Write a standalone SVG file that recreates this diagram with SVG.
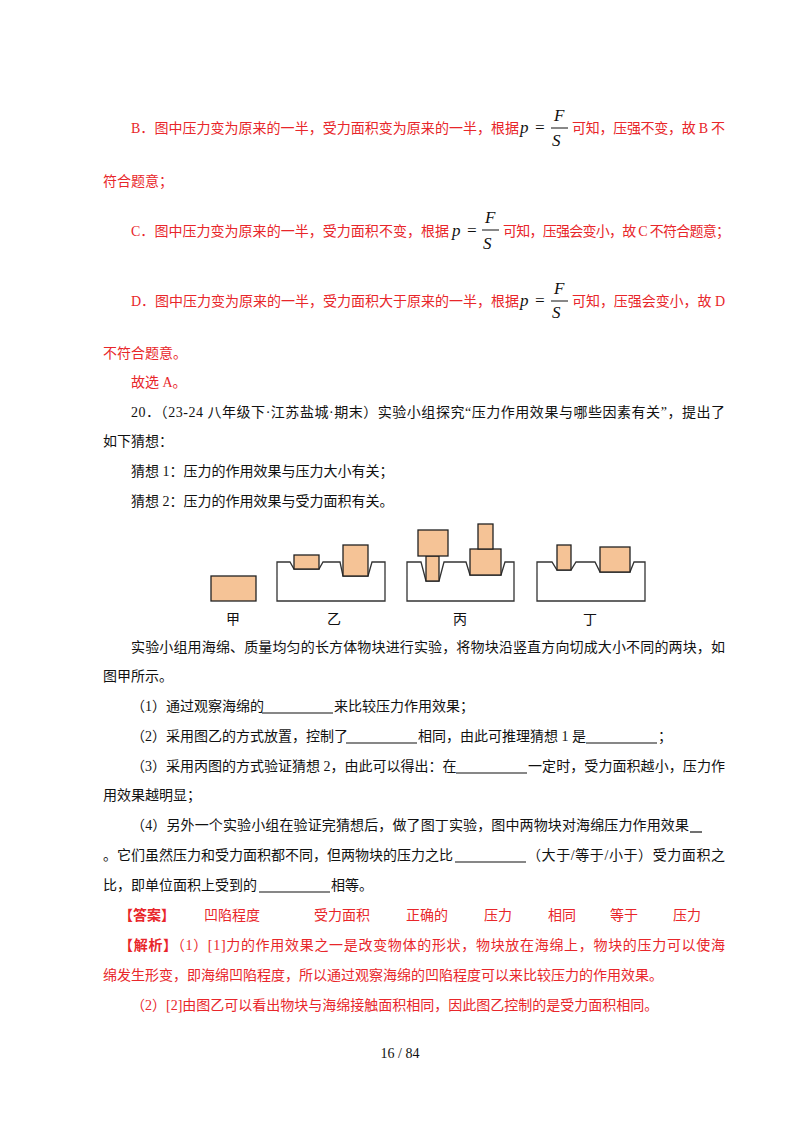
<svg xmlns="http://www.w3.org/2000/svg" width="800" height="1132" viewBox="0 0 800 1132">
<style>
text{font-family:"Liberation Serif","Noto Sans CJK SC",serif;font-size:14px;fill:#111}
.r{fill:#e8262a}
.m{font-family:"Liberation Serif",serif;font-style:italic;font-size:17px;fill:#111}
.b{fill:#f5c396;stroke:#222;stroke-width:1.3}
.s{fill:#fff;stroke:#333;stroke-width:1.3}
.u{stroke:#111;stroke-width:1.2}
</style>
<rect width="800" height="1132" fill="#fff"/>
<g id="opts">
<text class="r" x="131" y="133" textLength="388">B．图中压力变为原来的一半，受力面积变为原来的一半，根据</text>
<text class="m" x="520" y="133">p</text><text class="m" x="534" y="133" font-style="normal">=</text>
<text class="m" x="554" y="121">F</text><line x1="551" y1="128" x2="568" y2="128" stroke="#111"/><text class="m" x="552" y="146">S</text>
<text class="r" x="572" y="133" textLength="153">可知，压强不变，故 B 不</text>
<text class="r" x="103" y="186">符合题意；</text>
<text class="r" x="131" y="236" textLength="318">C．图中压力变为原来的一半，受力面积不变，根据</text>
<text class="m" x="452" y="236">p</text><text class="m" x="466" y="236" font-style="normal">=</text>
<text class="m" x="485" y="223">F</text><line x1="482" y1="230" x2="499" y2="230" stroke="#111"/><text class="m" x="483" y="249">S</text>
<text class="r" x="503" y="236" textLength="227">可知，压强会变小，故 C 不符合题意；</text>
<text class="r" x="131" y="306" textLength="388">D．图中压力变为原来的一半，受力面积大于原来的一半，根据</text>
<text class="m" x="520" y="306">p</text><text class="m" x="534" y="306" font-style="normal">=</text>
<text class="m" x="554" y="294">F</text><line x1="551" y1="301" x2="568" y2="301" stroke="#111"/><text class="m" x="552" y="318">S</text>
<text class="r" x="572" y="306" textLength="153">可知，压强会变小，故 D</text>
<text class="r" x="103" y="358">不符合题意。</text>
<text class="r" x="131" y="387">故选 A。</text>
</g>
<g id="question">
<text x="131" y="417" textLength="594">20．（23-24 八年级下·江苏盐城·期末）实验小组探究“压力作用效果与哪些因素有关”，提出了</text>
<text x="103" y="446">如下猜想：</text>
<text x="131" y="476">猜想 1：压力的作用效果与压力大小有关；</text>
<text x="131" y="506">猜想 2：压力的作用效果与受力面积有关。</text>
</g>
<g id="figure">
<rect class="b" x="211" y="576" width="45" height="25"/>
<path class="s" d="M277,562 H290 L294,569 H319 L323,562 H340 L343,576 H368 L372,562 H385 V601 H277 Z"/>
<rect class="b" x="294" y="555" width="25" height="14"/>
<rect class="b" x="343" y="545" width="25" height="31"/>
<path class="s" d="M407,562 H421 L426,581 H439 L444,562 H466 L470,575 H501 L505,562 H514 V601 H407 Z"/>
<rect class="b" x="426" y="556" width="13" height="25"/>
<rect class="b" x="418" y="530" width="30" height="26"/>
<rect class="b" x="470" y="549" width="31" height="26"/>
<rect class="b" x="478" y="524" width="15" height="25"/>
<path class="s" d="M537,562 H552 L557,570 H571 L576,562 H595 L600,572 H630 L634,562 H645 V601 H537 Z"/>
<rect class="b" x="557" y="545" width="14" height="25"/>
<rect class="b" x="600" y="547" width="30" height="25"/>
<text x="226" y="624">甲</text><text x="327" y="624">乙</text><text x="453" y="624">丙</text><text x="583" y="624">丁</text>
</g>
<g id="body">
<text x="131" y="652" textLength="594">实验小组用海绵、质量均匀的长方体物块进行实验，将物块沿竖直方向切成大小不同的两块，如</text>
<text x="103" y="681">图甲所示。</text>
<text x="131" y="711">（1）通过观察海绵的</text><line class="u" x1="262" y1="713" x2="333" y2="713"/><text x="334" y="711">来比较压力作用效果；</text>
<text x="131" y="741">（2）采用图乙的方式放置，控制了</text><line class="u" x1="346" y1="743" x2="417" y2="743"/><text x="418" y="741">相同，由此可推理猜想 1 是</text><line class="u" x1="586" y1="743" x2="657" y2="743"/><text x="658" y="741">；</text>
<text x="131" y="771">（3）采用丙图的方式验证猜想 2，由此可以得出：在</text><line class="u" x1="456" y1="773" x2="527" y2="773"/><text x="528" y="771" textLength="197">一定时，受力面积越小，压力作</text>
<text x="103" y="800">用效果越明显；</text>
<text x="131" y="830" textLength="558">（4）另外一个实验小组在验证完猜想后，做了图丁实验，图中两物块对海绵压力作用效果</text><line class="u" x1="690" y1="832" x2="702" y2="832"/>
<text x="103" y="860">。它们虽然压力和受力面积都不同，但两物块的压力之比</text><line class="u" x1="455" y1="862" x2="526" y2="862"/><text x="527" y="860" textLength="198">（大于/等于/小于）受力面积之</text>
<text x="103" y="890">比，即单位面积上受到的</text><line class="u" x1="259" y1="892" x2="330" y2="892"/><text x="331" y="890">相等。</text>
</g>
<g id="answer">
<text class="r" x="119" y="920" font-weight="bold">【答案】</text>
<text class="r" x="204" y="920">凹陷程度</text><text class="r" x="314" y="920">受力面积</text><text class="r" x="406" y="920">正确的</text><text class="r" x="484" y="920">压力</text><text class="r" x="548" y="920">相同</text><text class="r" x="610" y="920">等于</text><text class="r" x="673" y="920">压力</text>
<text class="r" x="119" y="950" textLength="606"><tspan font-weight="bold">【解析】</tspan>（1）[1]力的作用效果之一是改变物体的形状，物块放在海绵上，物块的压力可以使海</text>
<text class="r" x="103" y="980">绵发生形变，即海绵凹陷程度，所以通过观察海绵的凹陷程度可以来比较压力的作用效果。</text>
<text class="r" x="131" y="1010">（2）[2]由图乙可以看出物块与海绵接触面积相同，因此图乙控制的是受力面积相同。</text>
<text x="400" y="1058" text-anchor="middle">16  /  84</text>
</g>
</svg>
